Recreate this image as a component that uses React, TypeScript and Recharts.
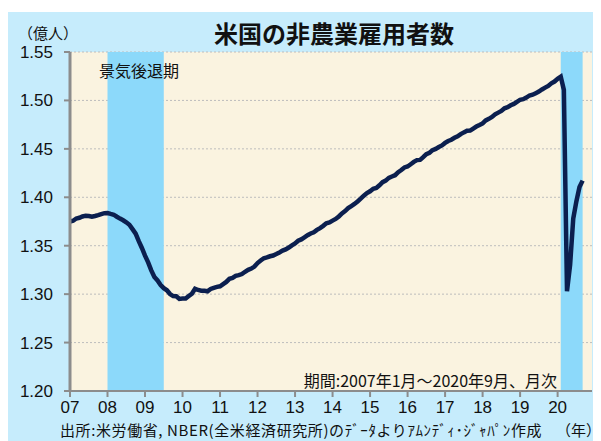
import { LineChart, Line, XAxis, YAxis, CartesianGrid, ReferenceArea } from 'recharts';

// 非農業雇用者数（億人）、月次 2007年1月〜2020年9月
const y2007 = [1.3750, 1.3758, 1.3781, 1.3788, 1.3802, 1.3810, 1.3806, 1.3799, 1.3807, 1.3816, 1.3827, 1.3836];
const y2008 = [1.3837, 1.3828, 1.3820, 1.3799, 1.3780, 1.3763, 1.3742, 1.3716, 1.3671, 1.3624, 1.3547, 1.3477];
const y2009 = [1.3398, 1.3328, 1.3245, 1.3177, 1.3141, 1.3094, 1.3062, 1.3040, 1.3001, 1.2980, 1.2979, 1.2951];
const y2010 = [1.2955, 1.2954, 1.2980, 1.3005, 1.3056, 1.3043, 1.3035, 1.3035, 1.3029, 1.3053, 1.3065, 1.3075];
const y2011 = [1.3081, 1.3103, 1.3126, 1.3158, 1.3168, 1.3189, 1.3196, 1.3207, 1.3231, 1.3251, 1.3264, 1.3285];
const y2012 = [1.3321, 1.3347, 1.3371, 1.3379, 1.3391, 1.3399, 1.3414, 1.3431, 1.3449, 1.3462, 1.3481, 1.3504];
const y2013 = [1.3523, 1.3551, 1.3565, 1.3586, 1.3608, 1.3626, 1.3638, 1.3663, 1.3682, 1.3705, 1.3731, 1.3740];
const y2014 = [1.3759, 1.3776, 1.3802, 1.3833, 1.3857, 1.3888, 1.3909, 1.3931, 1.3957, 1.3986, 1.4017, 1.4043];
const y2015 = [1.4062, 1.4088, 1.4096, 1.4124, 1.4156, 1.4172, 1.4201, 1.4215, 1.4228, 1.4259, 1.4281, 1.4308];
const y2016 = [1.4318, 1.4341, 1.4365, 1.4384, 1.4386, 1.4414, 1.4445, 1.4460, 1.4487, 1.4500, 1.4519, 1.4535];
const y2017 = [1.4561, 1.4581, 1.4594, 1.4614, 1.4629, 1.4652, 1.4670, 1.4686, 1.4688, 1.4710, 1.4730, 1.4746];
const y2018 = [1.4763, 1.4794, 1.4810, 1.4829, 1.4856, 1.4874, 1.4891, 1.4919, 1.4930, 1.4950, 1.4964, 1.4985];
const y2019 = [1.5007, 1.5013, 1.5030, 1.5051, 1.5059, 1.5075, 1.5091, 1.5113, 1.5132, 1.5150, 1.5177, 1.5195];
const y2020 = [1.5224, 1.5246, 1.5109, 1.3030, 1.3303, 1.3781, 1.3957, 1.4106, 1.4172];

const YEARS = [y2007, y2008, y2009, y2010, y2011, y2012, y2013, y2014, y2015, y2016, y2017, y2018, y2019, y2020];
const YEAR_LABELS = ['07', '08', '09', '10', '11', '12', '13', '14', '15', '16', '17', '18', '19', '20'];
const Y_TICKS = [1.2, 1.25, 1.3, 1.35, 1.4, 1.45, 1.5, 1.55];

// 景気後退期（2007年1月からの月番号）
const RECESSIONS = [
  { start: 12, end: 30 },
  { start: 157, end: 164 },
];

const data = YEARS.flatMap((vals, yi) => vals.map((v, m) => ({ t: yi * 12 + m, value: v })));
const X_TICKS = YEAR_LABELS.map((_, i) => i * 12);

const BG = '#C6ECFC';
const PLOT_BG = '#FAF3E0';
const BAND = '#8CD9FA';
const LINE = '#0B1F4F';
const AXIS = '#8C8C8C';
const NUM_FONT = '"Liberation Sans", Arial, sans-serif';
const JP_FONT = '"Noto Sans CJK JP", sans-serif';

export default function App() {
  return (
    <div style={{ marginTop: 4, width: 593, height: 429, background: BG, position: 'relative', overflow: 'hidden' }}>
      <LineChart
        width={593}
        height={429}
        data={data}
        margin={{ top: 40, right: 9, left: 0, bottom: 20 }}
      >
        <CartesianGrid
          vertical={false}
          fill={PLOT_BG}
          stroke="#BDBDBD"
          strokeDasharray="2 2"
        />
        <XAxis
          dataKey="t"
          type="number"
          domain={[0, 167]}
          ticks={X_TICKS}
          tickFormatter={(v) => YEAR_LABELS[v / 12]}
          interval={0}
          height={30}
          tickSize={6}
          tickMargin={4}
          tick={{ fontSize: 17, fill: '#111', fontFamily: NUM_FONT }}
          axisLine={{ stroke: AXIS, strokeWidth: 2 }}
          tickLine={{ stroke: AXIS, strokeWidth: 2 }}
        />
        <XAxis
          xAxisId="top"
          orientation="top"
          dataKey="t"
          type="number"
          domain={[0, 167]}
          height={0}
          tick={false}
          tickLine={false}
          axisLine={{ stroke: '#9A9A9A', strokeWidth: 2 }}
        />
        <YAxis
          domain={[1.2, 1.55]}
          ticks={Y_TICKS}
          tickFormatter={(v) => v.toFixed(2)}
          width={62}
          tickSize={6}
          tickMargin={11}
          tick={{ fontSize: 17, fill: '#111', fontFamily: NUM_FONT }}
          axisLine={{ stroke: AXIS, strokeWidth: 3 }}
          tickLine={{ stroke: AXIS, strokeWidth: 2 }}
        />
        <YAxis
          yAxisId="right"
          orientation="right"
          domain={[1.2, 1.55]}
          width={0}
          tick={false}
          tickLine={false}
          axisLine={{ stroke: '#9A9A9A', strokeWidth: 2 }}
        />
        {RECESSIONS.map((r) => (
          <ReferenceArea
            key={r.start}
            x1={r.start}
            x2={r.end}
            y1={1.2}
            y2={1.55}
            fill={BAND}
            fillOpacity={1}
            stroke="none"
          />
        ))}
        <Line
          type="linear"
          dataKey="value"
          stroke={LINE}
          strokeWidth={4.5}
          dot={false}
          isAnimationActive={false}
        />
      </LineChart>

      {/* タイトル・注記 */}
      <div style={{ position: 'absolute', left: 205, top: 5, width: 242, textAlign: 'center', fontFamily: JP_FONT, fontWeight: 700, fontSize: 24, lineHeight: '32px', color: '#111', whiteSpace: 'nowrap' }}>
        米国の非農業雇用者数
      </div>
      <div style={{ position: 'absolute', left: 10, top: 11, fontFamily: JP_FONT, fontSize: 15, lineHeight: '20px', color: '#111', whiteSpace: 'nowrap' }}>
        （億人）
      </div>
      <div style={{ position: 'absolute', left: 91, top: 48, fontFamily: JP_FONT, fontSize: 16, lineHeight: '20px', color: '#111', whiteSpace: 'nowrap' }}>
        景気後退期
      </div>
      <div style={{ position: 'absolute', right: 44, top: 358, fontFamily: JP_FONT, fontSize: 16, lineHeight: '20px', color: '#111', whiteSpace: 'nowrap' }}>
        期間:2007年1月～2020年9月、月次
      </div>
      <div style={{ position: 'absolute', left: 52, top: 410, fontFamily: JP_FONT, fontSize: 15, letterSpacing: 0.6, lineHeight: '16px', color: '#111', whiteSpace: 'nowrap' }}>
        出所:米労働省, NBER(全米経済研究所)のﾃﾞｰﾀよりｱﾑﾝﾃﾞｨ･ｼﾞｬﾊﾟﾝ作成
      </div>
      <div style={{ position: 'absolute', right: 0, top: 410, fontFamily: JP_FONT, fontSize: 15, lineHeight: '16px', color: '#111', whiteSpace: 'nowrap' }}>
        （年）
      </div>
    </div>
  );
}
